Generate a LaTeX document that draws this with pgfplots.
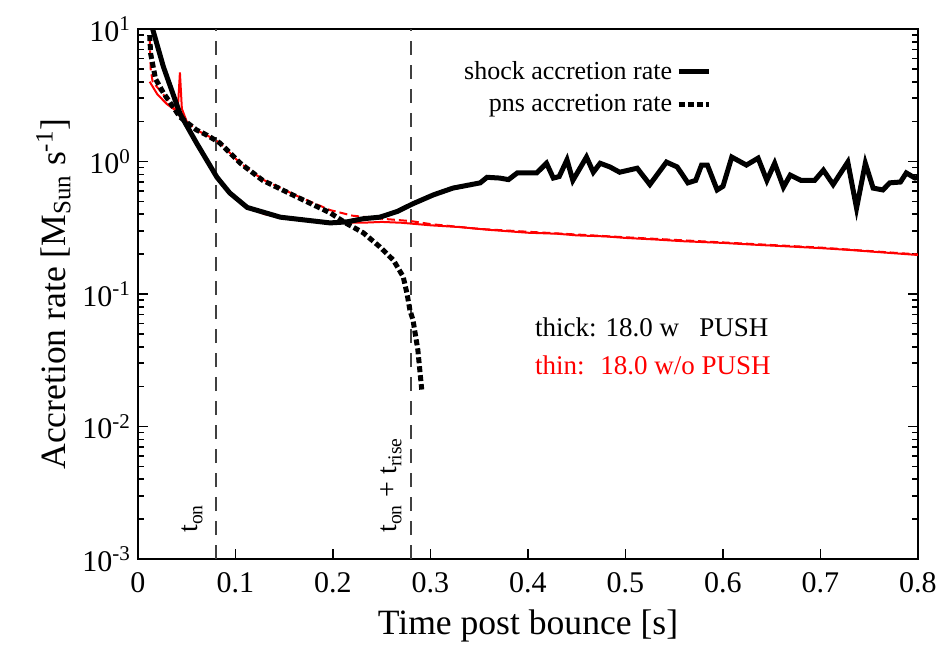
\documentclass[border=0pt]{standalone}
\usepackage{fontspec}
\setmainfont{Liberation Serif}
\usepackage{pgfplots}
\pgfplotsset{compat=1.18}
\definecolor{myred}{RGB}{255,0,0}
\begin{document}
\begin{tikzpicture}
\useasboundingbox (-69pt,-44pt) rectangle (399pt,279.5pt);
\begin{axis}[
  at={(0,0)}, anchor=south west,
  width=390pt, height=265pt, scale only axis,
  xmin=0, xmax=0.8, ymode=log, ymin=1e-3, ymax=10,
  xtick={0,0.1,0.2,0.3,0.4,0.5,0.6,0.7,0.8},
  xticklabels={0,0.1,0.2,0.3,0.4,0.5,0.6,0.7,0.8},
  ytick={1e-3,1e-2,1e-1,1,10},
  yticklabels={10\textsuperscript{-3},10\textsuperscript{-2},10\textsuperscript{-1},10\textsuperscript{0},10\textsuperscript{1}},
  xtick pos=bottom, ytick pos=both,
  major tick length=5pt, minor tick length=3pt,
  axis line style={line width=1pt},
  every tick/.style={line width=0.8pt, black},
  tick label style={font=\fontsize{15}{18}\selectfont},
  xticklabel style={yshift=-3pt},
  /pgf/number format/assume math mode=true,
  xlabel={Time post bounce [s]},
  ylabel={Accretion rate [M\textsubscript{Sun} s\textsuperscript{-1}]},
  label style={font=\fontsize{17.8}{20}\selectfont},
  xlabel style={yshift=-2pt},
  ylabel style={yshift=-1pt},
  clip=true,
  legend style={draw=none, fill=none, at={(0.743,0.955)}, anchor=north east,
    font=\fontsize{13}{15}\selectfont, row sep=2pt},
  legend cell align=right, legend plot pos=right,
  legend image code/.code={\draw[#1] (0pt,0pt) -- (15pt,0pt);},
]
% vertical dashed markers
\addplot[forget plot, black!75, line width=0.9pt, dash pattern=on 7pt off 5pt] coordinates {(0.08,1e-3) (0.08,10)};
\addplot[forget plot, black!75, line width=0.9pt, dash pattern=on 7pt off 5pt] coordinates {(0.28,1e-3) (0.28,10)};
% red solid: shock w/o PUSH
\addplot[forget plot, myred, line width=1pt] coordinates {
(0.012,4.0) (0.02,3.2) (0.03,2.7) (0.038,2.45) (0.041,2.6) (0.043,4.7) (0.045,2.5) (0.05,2.0) (0.06,1.38)
(0.07,1.02) (0.081,0.76) (0.094,0.58) (0.112,0.45) (0.13,0.40) (0.146,0.38) (0.17,0.36) (0.2,0.345)
(0.23,0.345) (0.25,0.35) (0.27,0.345) (0.3,0.33) (0.33,0.32) (0.36,0.305) (0.4,0.29) (0.43,0.285) (0.45,0.277)
(0.48,0.272) (0.5,0.265) (0.53,0.258) (0.56,0.25) (0.6,0.243) (0.63,0.236) (0.66,0.23) (0.7,0.222)
(0.73,0.215) (0.76,0.207) (0.8,0.197)};
% red dashed: pns w/o PUSH
\addplot[forget plot, myred, line width=1pt, dash pattern=on 4pt off 2pt] coordinates {
(0.012,8.5) (0.013,5.0) (0.015,4.0) (0.026,3.2) (0.043,2.2) (0.06,1.73) (0.074,1.53) (0.084,1.38)
(0.105,0.97) (0.128,0.73) (0.163,0.55) (0.197,0.43) (0.22,0.39) (0.25,0.37) (0.28,0.355) (0.3,0.337)
(0.35,0.31) (0.4,0.295) (0.5,0.268) (0.6,0.245) (0.7,0.224) (0.8,0.199)};
% black solid: shock with PUSH
\addplot[black, line width=2.5pt] coordinates {
(0.013,12) (0.015,10) (0.026,5.2) (0.043,2.3) (0.06,1.38) (0.081,0.76) (0.094,0.58) (0.112,0.45)
(0.146,0.38) (0.197,0.344) (0.214,0.35) (0.231,0.37) (0.248,0.38) (0.266,0.42) (0.282,0.48) (0.303,0.56)
(0.323,0.63) (0.351,0.69) (0.358,0.76) (0.371,0.75) (0.38,0.73) (0.389,0.82) (0.409,0.82) (0.419,0.97)
(0.426,0.75) (0.432,0.77) (0.44,1.03) (0.446,0.72) (0.46,1.08) (0.467,0.83) (0.474,0.97) (0.484,0.91)
(0.494,0.83) (0.512,0.89) (0.525,0.67) (0.542,0.99) (0.553,0.91) (0.564,0.69) (0.572,0.72) (0.578,0.94)
(0.584,0.94) (0.594,0.61) (0.6,0.65) (0.609,1.08) (0.624,0.94) (0.636,1.06) (0.645,0.72) (0.653,0.97)
(0.662,0.64) (0.669,0.79) (0.68,0.72) (0.694,0.72) (0.703,0.86) (0.713,0.67) (0.728,0.99) (0.737,0.445)
(0.746,0.97) (0.754,0.63) (0.764,0.61) (0.771,0.69) (0.782,0.70) (0.788,0.82) (0.797,0.75) (0.8,0.76)};
\addlegendentry{shock accretion rate}
% black dotted: pns with PUSH
\addplot[black, line width=2.5pt, dash pattern=on 3pt off 1.5pt] coordinates {
(0.012,9.0) (0.013,6.5) (0.018,4.2) (0.026,3.3) (0.043,2.17) (0.06,1.73) (0.068,1.62) (0.074,1.53) (0.084,1.38)
(0.105,0.97) (0.128,0.72) (0.163,0.54) (0.197,0.41) (0.214,0.34) (0.231,0.29) (0.248,0.227) (0.262,0.18)
(0.272,0.135) (0.276,0.10) (0.279,0.075) (0.282,0.064) (0.287,0.038) (0.291,0.019)};
\addlegendentry{pns accretion rate}
\node[anchor=west, font=\fontsize{13.5}{16}\selectfont] at (axis cs:0.4,0.0564) {thick: 18.0 w \ \ PUSH};
\node[anchor=west, font=\fontsize{13.5}{16}\selectfont, text=myred] at (axis cs:0.4,0.0291) {thin: \ 18.0 w/o PUSH};
\node[rotate=90, anchor=base west, font=\fontsize{14}{16}\selectfont] at (axis cs:0.0615,0.0014) {t\textsubscript{on}};
\node[rotate=90, anchor=base west, font=\fontsize{14}{16}\selectfont] at (axis cs:0.2656,0.0014) {t\textsubscript{on} + t\textsubscript{rise}};
\end{axis}
\end{tikzpicture}
\end{document}
